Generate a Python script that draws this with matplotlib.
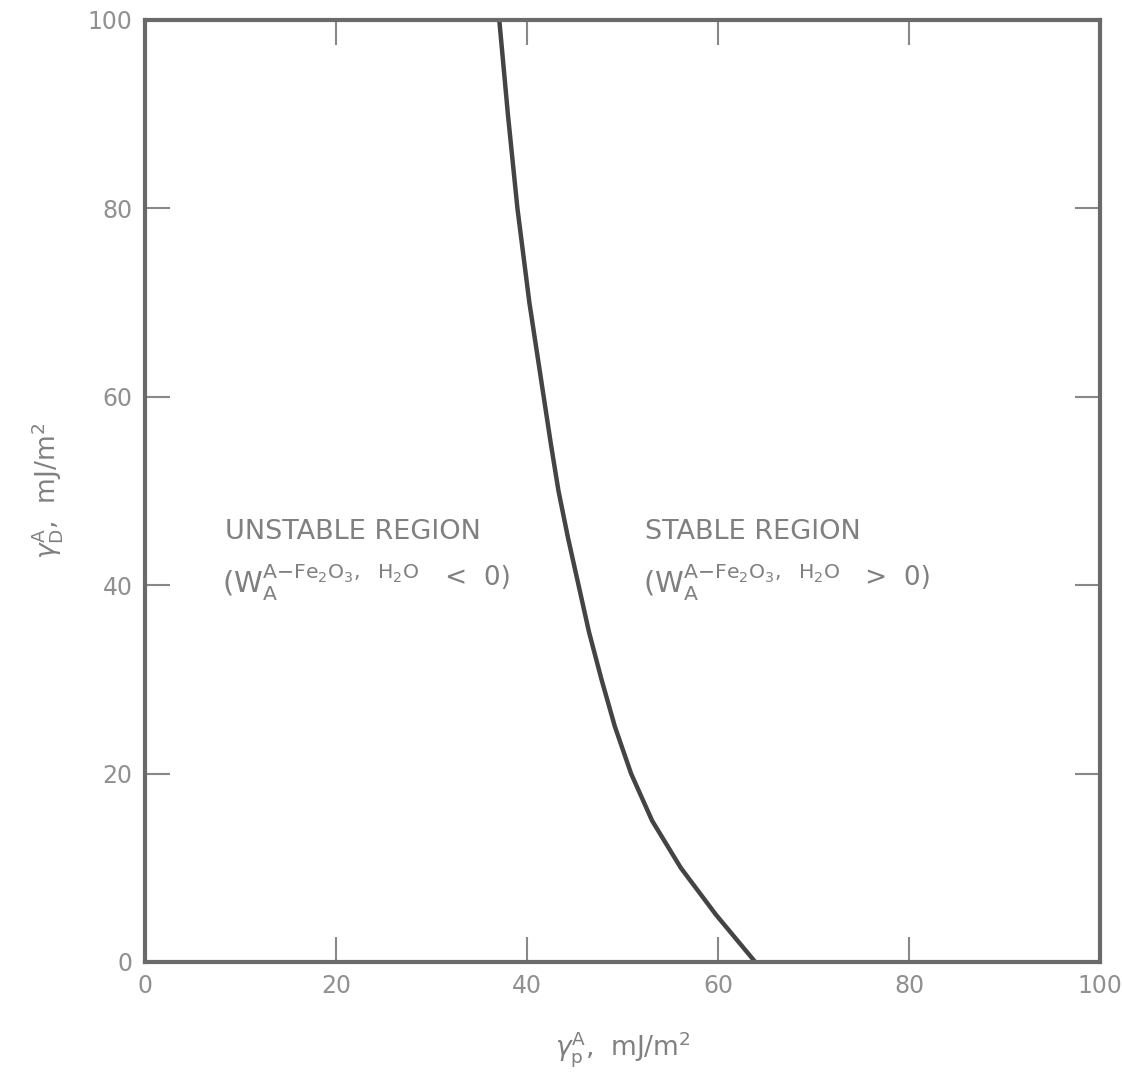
import numpy as np
import matplotlib
matplotlib.use('Agg')
import matplotlib.pyplot as plt

# curve: polar component vs dispersive component
gamma_d = [0, 5, 10, 15, 20, 25, 30, 35, 40, 45, 50, 55, 60, 70, 80, 90, 100]
gamma_p = [63.9, 59.8, 56.1, 53.1, 50.9, 49.2, 47.8, 46.5, 45.4, 44.3, 43.3,
           42.5, 41.75, 40.25, 39.0, 38.0, 37.1]
ticks = [0, 20, 40, 60, 80, 100]

text_grey = '#808080'
line_grey = '#444444'

plt.rcParams['font.family'] = ['DejaVu Sans']
plt.rcParams['mathtext.fontset'] = 'custom'
plt.rcParams['mathtext.rm'] = 'DejaVu Sans'
plt.rcParams['mathtext.it'] = 'DejaVu Sans:italic'

fig = plt.figure(figsize=(11.22, 10.85), dpi=100)
ax = fig.add_axes([0.1292, 0.1134, 0.8512, 0.8682])

ax.plot(gamma_p, gamma_d, color=line_grey, lw=3.2, solid_joinstyle='round',
        solid_capstyle='butt')

ax.set_xlim(0, 100)
ax.set_ylim(0, 100)
ax.set_xticks(ticks)
ax.set_yticks(ticks)
ax.tick_params(direction='in', length=18, width=1.5, color='#888888',
               top=True, right=True, labelsize=17, labelcolor='#909090', pad=9)
for s in ax.spines.values():
    s.set_linewidth(3)
    s.set_color('#6a6a6a')

ax.set_xlabel(r'$\gamma_\mathrm{p}^\mathrm{A}$,  mJ/m$^2$', fontsize=19,
              color=text_grey, labelpad=22)
ax.set_ylabel(r'$\gamma_\mathrm{D}^\mathrm{A}$,  mJ/m$^2$', fontsize=19,
              color=text_grey, labelpad=16)

w_label = r'($\mathrm{W}_\mathrm{A}^{\mathrm{A{-}Fe_2O_3,\ \ H_2O}}$'
for x0, name, sign in [(8.4, 'UNSTABLE REGION', '   <  0)'),
                       (52.4, 'STABLE REGION', '   >  0)')]:
    ax.text(x0, 45.6, name, fontsize=19.5, color=text_grey, va='center')
    t = ax.text(x0 - 0.3, 39.2, w_label, fontsize=21, color=text_grey,
                va='baseline')
    ax.annotate(sign, xy=(1, 0.28), xycoords=t, fontsize=19, color=text_grey,
                va='bottom')

fig.savefig('out.png', dpi=100)
